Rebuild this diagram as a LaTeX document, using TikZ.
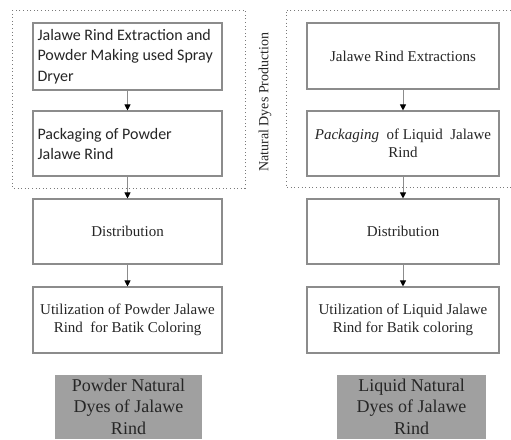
\documentclass[tikz,border=0pt]{standalone}
\usepackage{fontspec}
\setmainfont{Liberation Serif}
\newfontfamily\calibri{Carlito}
\usetikzlibrary{arrows.meta}
\definecolor{boxline}{HTML}{8C8C8C}
\definecolor{graybox}{HTML}{A0A0A0}
\definecolor{dotline}{HTML}{7A7A7A}
\begin{document}
\begin{tikzpicture}[x=1pt,y=-1pt,
  stepbox/.style={draw=boxline,line width=1.1pt,fill=white,inner sep=0pt,
    minimum height=65pt,font=\fontsize{15}{18.5}\selectfont,align=center,text=black!85},
  leftbox/.style={stepbox,minimum width=189pt},
  rightbox/.style={stepbox,minimum width=192pt},
  sansbox/.style={font=\calibri\fontsize{16}{20.5}\selectfont,align=left,text=black!85},
  flow/.style={draw=boxline,line width=1pt,-{Triangle[width=6pt,length=6pt,color=black]}},
  frame/.style={draw=dotline,line width=1pt,dash pattern=on 1pt off 2.6pt},
  result/.style={fill=graybox,inner sep=0pt,anchor=north,minimum height=64pt},
  resulttext/.style={inner sep=0pt,align=center,anchor=north,
    font=\fontsize{18}{21.5}\selectfont,text=black!85}]
\useasboundingbox (0,0) rectangle (511,439);
\fill[white] (0,0) rectangle (511,439);

% dotted production frames
\draw[frame] (12,10) rectangle (245,188);
\draw[frame] (511,10) -- (286,10) -- (286,187) -- (511,187);
\node[rotate=90,font=\fontsize{14}{16}\selectfont,text=black!85] (lbl) at (265,102) {Natural Dyes Production};

% left column
\node[leftbox,minimum height=67pt] (l1) at (127.5,56.5) {};
\node[sansbox,anchor=west] (l1t) at (34,56.5) {Jalawe Rind Extraction and\\Powder Making used Spray\\Dryer};
\node[leftbox] (l2) at (127.5,143.5) {};
\node[sansbox,anchor=west] (l2t) at (34,144) {Packaging of Powder\\Jalawe Rind};
\node[leftbox] (l3) at (127.5,231.5) {Distribution};
\node[leftbox,minimum height=66pt] (l4) at (127.5,320) {Utilization of Powder Jalawe\\Rind\ \ for Batik Coloring};
\node[result,minimum width=147pt] (l5) at (128.5,375) {};
\node[resulttext] (l5t) at (128.5,378.5) {Powder Natural\\Dyes of Jalawe\\Rind};

% right column
\node[rightbox,minimum height=66pt] (r1) at (403,56) {Jalawe Rind Extractions};
\node[rightbox] (r2) at (403,143.5) {\textit{Packaging}\ \ of Liquid\ \ Jalawe\\Rind};
\node[rightbox] (r3) at (403,231.5) {Distribution};
\node[rightbox,minimum height=66pt] (r4) at (403,320) {Utilization of Liquid Jalawe\\Rind for Batik coloring};
\node[result,minimum width=149pt] (r5) at (411.5,375) {};
\node[resulttext] (r5t) at (411.5,378.5) {Liquid Natural\\Dyes of Jalawe\\Rind};

% connectors
\draw[flow] (l1.south) -- (l2.north);
\draw[flow] (l2.south) -- (l3.north);
\draw[flow] (l3.south) -- (l4.north);
\draw[flow] (r1.south) -- (r2.north);
\draw[flow] (r2.south) -- (r3.north);
\draw[flow] (r3.south) -- (r4.north);
\end{tikzpicture}
\end{document}
